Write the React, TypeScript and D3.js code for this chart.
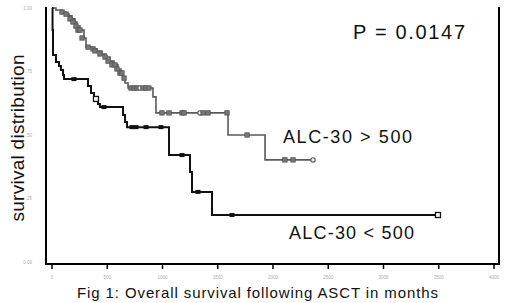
import React from "react";
import * as d3 from "d3";

const xTicks = [0, 500, 1000, 1500, 2000, 2500, 3000, 3500, 4000];
const xTickLabels = ["0", "500", "1000", "1500", "2000", "2500", "3000", "3500", "4000"];
const yTicks = [0, 0.25, 0.5, 0.75, 1];
const yTickLabels = ["0.00", ".25", ".50", ".75", "1.00"];

// ALC-30 > 500 (upper curve): step times and survival after each step
const highTimes = [0, 36, 91, 127, 154, 181, 208, 226, 253, 290, 308, 362, 407, 453, 489, 525, 561, 597, 624, 643, 661, 688, 914, 941, 1593, 1928, 2380];
const highSurv = [1, 0.992, 0.984, 0.976, 0.969, 0.957, 0.945, 0.929, 0.913, 0.882, 0.846, 0.839, 0.831, 0.819, 0.807, 0.791, 0.776, 0.76, 0.744, 0.724, 0.705, 0.685, 0.65, 0.587, 0.5, 0.402, 0.402];
const highCensorTimes = [91, 127, 163, 190, 217, 235, 253, 272, 326, 371, 389, 434, 480, 507, 543, 570, 588, 615, 633, 652, 715, 742, 769, 796, 823, 850, 877, 995, 1059, 1177, 1195, 1339, 1367, 1412, 1584, 1765, 2108, 2181, 2362];
const highCensorSurv = [0.984, 0.976, 0.957, 0.945, 0.929, 0.913, 0.913, 0.882, 0.846, 0.839, 0.831, 0.819, 0.807, 0.791, 0.776, 0.776, 0.76, 0.744, 0.744, 0.724, 0.685, 0.685, 0.685, 0.685, 0.685, 0.685, 0.685, 0.587, 0.587, 0.587, 0.587, 0.587, 0.587, 0.587, 0.587, 0.5, 0.402, 0.402, 0.402];
const highOpen = [false, false, false, false, false, false, false, false, false, false, false, false, false, false, false, false, false, false, false, false, false, false, false, true, false, false, false, false, false, false, false, true, false, false, false, false, false, false, true];

// ALC-30 < 500 (lower curve)
const lowTimes = [0, 5, 9, 36, 63, 81, 100, 109, 326, 353, 380, 416, 434, 643, 661, 679, 1059, 1249, 1267, 1448, 3493];
const lowSurv = [1, 0.913, 0.815, 0.787, 0.772, 0.756, 0.736, 0.72, 0.693, 0.665, 0.642, 0.622, 0.61, 0.579, 0.551, 0.531, 0.421, 0.354, 0.276, 0.185, 0.185];
const lowCensorTimes = [199, 398, 470, 724, 760, 851, 986, 1177, 1321, 1629, 3493];
const lowCensorSurv = [0.72, 0.642, 0.61, 0.531, 0.531, 0.531, 0.531, 0.421, 0.276, 0.185, 0.185];
const lowOpen = [false, true, false, false, false, false, false, false, false, false, true];

const W = 520;
const H = 303;

export default function App() {
  const x = d3.scaleLinear().domain([0, 4000]).range([52, 494]);
  const y = d3.scaleLinear().domain([0, 1]).range([262, 8]);
  const line = d3
    .line<[number, number]>()
    .x((d) => x(d[0]))
    .y((d) => y(d[1]))
    .curve(d3.curveStepAfter);

  const highPts: [number, number][] = highTimes.map((t, i) => [t, highSurv[i]]);
  const lowPts: [number, number][] = lowTimes.map((t, i) => [t, lowSurv[i]]);

  const axisY = 264;
  const axisX = 46;
  const font = "Liberation Sans, Arial, sans-serif";

  return (
    <svg
      width={W}
      height={H}
      style={{ position: "absolute", left: 0, top: 0, background: "#fff" }}
      fontFamily={font}
    >
      <rect width={W} height={H} fill="#fff" />
      {/* axes frame */}
      <line x1={axisX} y1={7} x2={axisX} y2={axisY + 1} stroke="#000" strokeWidth={2} />
      <line x1={axisX - 1} y1={axisY} x2={500} y2={axisY} stroke="#000" strokeWidth={2} />
      <line x1={499} y1={7} x2={499} y2={axisY + 1} stroke="#000" strokeWidth={2} />
      {xTicks.map((t, i) => (
        <g key={"xt" + i}>
          <line x1={x(t)} y1={axisY} x2={x(t)} y2={axisY + 5} stroke="#000" strokeWidth={1.5} />
          <text x={x(t)} y={279} fontSize={4.5} fill="#aaa" textAnchor="middle">
            {xTickLabels[i]}
          </text>
        </g>
      ))}
      {yTicks.map((t, i) => (
        <text key={"yt" + i} x={32} y={y(t) + 1.5} fontSize={4.5} fill="#aaa" textAnchor="end">
          {yTickLabels[i]}
        </text>
      ))}

      {/* upper curve */}
      <path d={line(highPts) || ""} fill="none" stroke="#5a5a5a" strokeWidth={1.6} />
      {highCensorTimes.map((t, i) =>
        highOpen[i] ? (
          <circle key={"hc" + i} cx={x(t)} cy={y(highCensorSurv[i])} r={2.2} fill="#fff" stroke="#555" strokeWidth={1.1} />
        ) : (
          <rect
            key={"hc" + i}
            x={x(t) - 2.2}
            y={y(highCensorSurv[i]) - 2.2}
            width={4.4}
            height={4.4}
            fill="#777"
            stroke="#555"
            strokeWidth={0.8}
          />
        )
      )}

      {/* lower curve */}
      <path d={line(lowPts) || ""} fill="none" stroke="#111" strokeWidth={2} />
      {lowCensorTimes.map((t, i) =>
        lowOpen[i] ? (
          <rect
            key={"lc" + i}
            x={x(t) - 2.5}
            y={y(lowCensorSurv[i]) - 2.5}
            width={5}
            height={5}
            fill="#fff"
            stroke="#111"
            strokeWidth={1.3}
          />
        ) : (
          <rect
            key={"lc" + i}
            x={x(t) - 2.5}
            y={y(lowCensorSurv[i]) - 2}
            width={5}
            height={4}
            fill="#111"
          />
        )
      )}

      {/* labels */}
      <text x={409} y={39} fontSize={20} textAnchor="middle" fill="#111" textLength={112} lengthAdjust="spacing">
        P = 0.0147
      </text>
      <text x={283} y={143} fontSize={18} fill="#111" textLength={129} lengthAdjust="spacing">
        ALC-30 &gt; 500
      </text>
      <text x={289} y={239} fontSize={18} fill="#111" textLength={125} lengthAdjust="spacing">
        ALC-30 &lt; 500
      </text>
      <text
        transform="translate(24,138) rotate(-90)"
        fontSize={19}
        fill="#111"
        textAnchor="middle"
        textLength={167}
        lengthAdjust="spacing"
      >
        survival distribution
      </text>
      <text x={77} y={298} fontSize={15} fill="#111" textLength={361} lengthAdjust="spacing">
        Fig 1: Overall survival following ASCT in months
      </text>
    </svg>
  );
}
